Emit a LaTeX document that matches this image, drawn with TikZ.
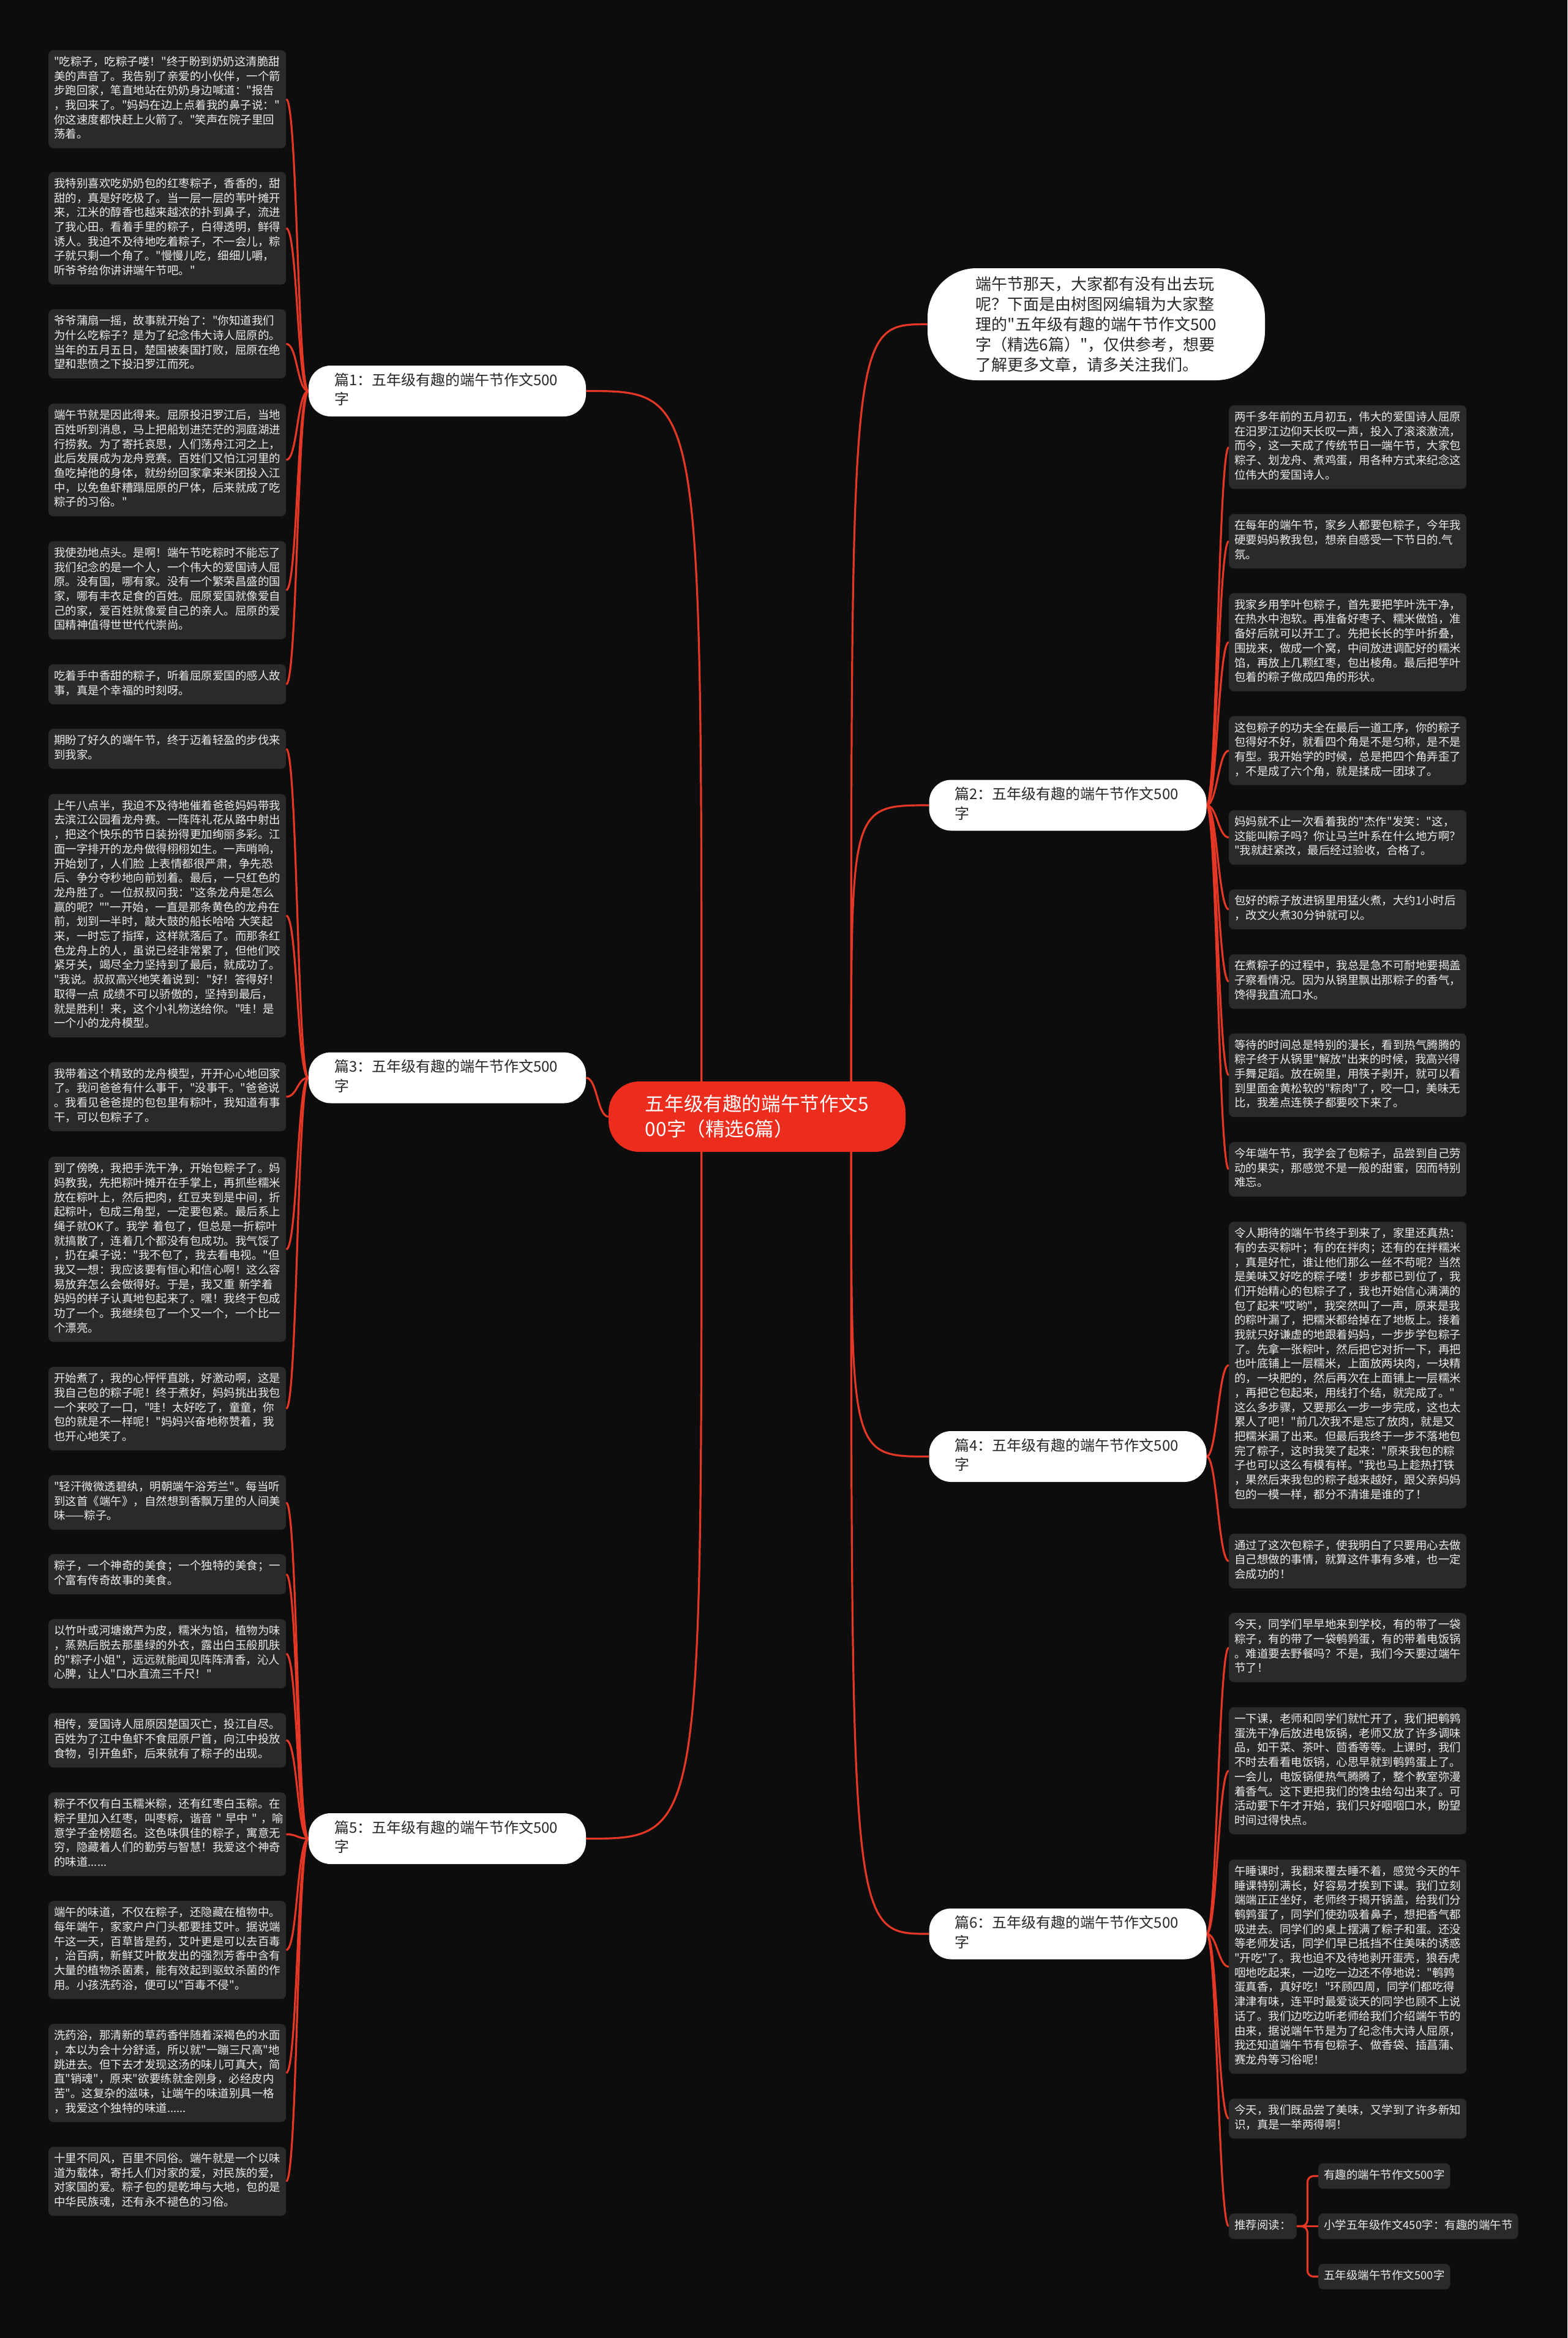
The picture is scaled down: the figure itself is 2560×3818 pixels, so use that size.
\documentclass[tikz,border=0pt]{standalone}
\usepackage{fontspec}
\newfontfamily\cjkf{Noto Sans CJK SC}
\setmainfont{Noto Sans CJK SC}
\usetikzlibrary{calc}
\definecolor{bgc}{RGB}{13,13,13}
\definecolor{leafc}{RGB}{42,42,42}
\definecolor{leaftx}{RGB}{236,236,236}
\definecolor{redc}{RGB}{229,55,38}
\definecolor{rootc}{RGB}{236,44,28}
\definecolor{branchtx}{RGB}{40,40,40}
\pgfdeclarelayer{back}
\pgfsetlayers{back,main}
\begin{document}
\begin{tikzpicture}[x=1pt,y=-1pt,
  leaf/.style={fill=leafc, rounded corners=8pt, text=leaftx, text width=370pt,
    inner xsep=9pt, inner ysep=9pt, align=left, anchor=west,
    font=\cjkf\fontsize{18.5pt}{23.7pt}\selectfont,
    execute at begin node=\strut, execute at end node=\strut},
  chip/.style={fill=leafc, rounded corners=8pt, text=leaftx,
    inner xsep=9pt, inner ysep=9pt, anchor=west,
    font=\cjkf\fontsize{18.5pt}{23.7pt}\selectfont, execute at begin node=\strut},
  branch/.style={fill=white, rounded corners=36pt, text=branchtx, text width=369pt,
    inner xsep=42pt, inner ysep=10pt, align=left,
    font=\cjkf\fontsize{24pt}{31.5pt}\selectfont,
    execute at begin node=\strut, execute at end node=\strut},
  conn/.style={draw=redc, line width=3.2pt},
]
\begin{pgfonlayer}{back}
\fill[bgc] (0,0) rectangle (2560,3818);
\end{pgfonlayer}
\useasboundingbox (0,0) rectangle (2560,3818);

% root and intro
\node[fill=rootc, rounded corners=50pt, text=white, minimum width=485pt, minimum height=115pt,
  align=left, font=\cjkf\fontsize{31.6pt}{41pt}\selectfont] (root) at (1236.5,1823.5)
  {五年级有趣的端午节作文5\\00字（精选6篇）};
\node[fill=white, rounded corners=80pt, text=branchtx, minimum width=551pt, minimum height=183pt,
  align=left, font=\cjkf\fontsize{26pt}{33pt}\selectfont] (intro) at (1790.5,529.5)
  {端午节那天，大家都有没有出去玩\\呢？下面是由树图网编辑为大家整\\理的"五年级有趣的端午节作文500\\字（精选6篇）"，仅供参考，想要\\了解更多文章，请多关注我们。};

% branches
\node[branch] (p1) at (730.5,638.5) {篇1：五年级有趣的端午节作文500\\字};
\node[branch] (p3) at (730.5,1760) {篇3：五年级有趣的端午节作文500\\字};
\node[branch] (p5) at (730.5,3002.5) {篇5：五年级有趣的端午节作文500\\字};
\node[branch] (p2) at (1744,1315) {篇2：五年级有趣的端午节作文500\\字};
\node[branch] (p4) at (1744,2378.5) {篇4：五年级有趣的端午节作文500\\字};
\node[branch] (p6) at (1744,3158) {篇6：五年级有趣的端午节作文500\\字};

% left leaves
\node[leaf] (l1) at (79,162) {"吃粽子，吃粽子喽！"终于盼到奶奶这清脆甜\\美的声音了。我告别了亲爱的小伙伴，一个箭\\步跑回家，笔直地站在奶奶身边喊道："报告\\，我回来了。"妈妈在边上点着我的鼻子说："\\你这速度都快赶上火箭了。"笑声在院子里回\\荡着。};
\node[leaf] (l2) at (79,372.7) {我特别喜欢吃奶奶包的红枣粽子，香香的，甜\\甜的，真是好吃极了。当一层一层的苇叶摊开\\来，江米的醇香也越来越浓的扑到鼻子，流进\\了我心田。看着手里的粽子，白得透明，鲜得\\诱人。我迫不及待地吃着粽子，不一会儿，粽\\子就只剩一个角了。"慢慢儿吃，细细儿嚼，\\听爷爷给你讲讲端午节吧。"};
\node[leaf] (l3) at (79,561.5) {爷爷蒲扇一摇，故事就开始了："你知道我们\\为什么吃粽子？是为了纪念伟大诗人屈原的。\\当年的五月五日，楚国被秦国打败，屈原在绝\\望和悲愤之下投汨罗江而死。};
\node[leaf] (l4) at (79,751.1) {端午节就是因此得来。屈原投汨罗江后，当地\\百姓听到消息，马上把船划进茫茫的洞庭湖进\\行捞救。为了寄托哀思，人们荡舟江河之上，\\此后发展成为龙舟竞赛。百姓们又怕江河里的\\鱼吃掉他的身体，就纷纷回家拿来米团投入江\\中，以免鱼虾糟蹋屈原的尸体，后来就成了吃\\粽子的习俗。"};
\node[leaf] (l5) at (79,963.8) {我使劲地点头。是啊！端午节吃粽时不能忘了\\我们纪念的是一个人，一个伟大的爱国诗人屈\\原。没有国，哪有家。没有一个繁荣昌盛的国\\家，哪有丰衣足食的百姓。屈原爱国就像爱自\\己的家，爱百姓就像爱自己的亲人。屈原的爱\\国精神值得世世代代崇尚。};
\node[leaf] (l6) at (79,1117.5) {吃着手中香甜的粽子，听着屈原爱国的感人故\\事，真是个幸福的时刻呀。};
\node[leaf] (l7) at (79,1222.9) {期盼了好久的端午节，终于迈着轻盈的步伐来\\到我家。};
\node[leaf] (l8) at (79,1495.2) {上午八点半，我迫不及待地催着爸爸妈妈带我\\去滨江公园看龙舟赛。一阵阵礼花从路中射出\\，把这个快乐的节日装扮得更加绚丽多彩。江\\面一字排开的龙舟做得栩栩如生。一声哨响，\\开始划了，人们脸~上表情都很严肃，争先恐\\后、争分夺秒地向前划着。最后，一只红色的\\龙舟胜了。一位叔叔问我："这条龙舟是怎么\\赢的呢？""一开始，一直是那条黄色的龙舟在\\前，划到一半时，敲大鼓的船长哈哈~大笑起\\来，一时忘了指挥，这样就落后了。而那条红\\色龙舟上的人，虽说已经非常累了，但他们咬\\紧牙关，竭尽全力坚持到了最后，就成功了。\\"我说。叔叔高兴地笑着说到："好！答得好！\\取得一点~成绩不可以骄傲的，坚持到最后，\\就是胜利！来，这个小礼物送给你。"哇！是\\一个小的龙舟模型。};
\node[leaf] (l9) at (79,1791) {我带着这个精致的龙舟模型，开开心心地回家\\了。我问爸爸有什么事干，"没事干。"爸爸说\\。我看见爸爸提的包包里有粽叶，我知道有事\\干，可以包粽子了。};
\node[leaf] (l10) at (79,2040.2) {到了傍晚，我把手洗干净，开始包粽子了。妈\\妈教我，先把粽叶摊开在手掌上，再抓些糯米\\放在粽叶上，然后把肉，红豆夹到是中间，折\\起粽叶，包成三角型，一定要包紧。最后系上\\绳子就OK了。我学~着包了，但总是一折粽叶\\就搞散了，连着几个都没有包成功。我气馁了\\，扔在桌子说："我不包了，我去看电视。"但\\我又一想：我应该要有恒心和信心啊！这么容\\易放弃怎么会做得好。于是，我又重~新学着\\妈妈的样子认真地包起来了。嘿！我终于包成\\功了一个。我继续包了一个又一个，一个比一\\个漂亮。};
\node[leaf] (l11) at (79,2300.4) {开始煮了，我的心怦怦直跳，好激动啊，这是\\我自己包的粽子呢！终于煮好，妈妈挑出我包\\一个来咬了一口，"哇！太好吃了，童童，你\\包的就是不一样呢！"妈妈兴奋地称赞着，我\\也开心地笑了。};
\node[leaf] (l12) at (79,2453.5) {"轻汗微微透碧纨，明朝端午浴芳兰"。每当听\\到这首《端午》，自然想到香飘万里的人间美\\味——粽子。};
\node[leaf] (l13) at (79,2570.8) {粽子，一个神奇的美食；一个独特的美食；一\\个富有传奇故事的美食。};
\node[leaf] (l14) at (79,2700.6) {以竹叶或河塘嫩芦为皮，糯米为馅，植物为味\\，蒸熟后脱去那墨绿的外衣，露出白玉般肌肤\\的"粽子小姐"，远远就能闻见阵阵清香，沁人\\心脾，让人"口水直流三千尺！"};
\node[leaf] (l15) at (79,2841.8) {相传，爱国诗人屈原因楚国灭亡，投江自尽。\\百姓为了江中鱼虾不食屈原尸首，向江中投放\\食物，引开鱼虾，后来就有了粽子的出现。};
\node[leaf] (l16) at (79,2995.4) {粽子不仅有白玉糯米粽，还有红枣白玉粽。在\\粽子里加入红枣，叫枣粽，谐音~"~早中~"~，喻\\意学子金榜题名。这色味俱佳的粽子，寓意无\\穷，隐藏着人们的勤劳与智慧！我爱这个神奇\\的味道......};
\node[leaf] (l17) at (79,3184.3) {端午的味道，不仅在粽子，还隐藏在植物中。\\每年端午，家家户户门头都要挂艾叶。据说端\\午这一天，百草皆是药，艾叶更是可以去百毒\\，治百病，新鲜艾叶散发出的强烈芳香中含有\\大量的植物杀菌素，能有效起到驱蚊杀菌的作\\用。小孩洗药浴，便可以"百毒不侵"。};
\node[leaf] (l18) at (79,3385.3) {洗药浴，那清新的草药香伴随着深褐色的水面\\，本以为会十分舒适，所以就"一蹦三尺高"地\\跳进去。但下去才发现这汤的味儿可真大，简\\直"销魂"，原来"欲要练就金刚身，必经皮内\\苦"。这复杂的滋味，让端午的味道别具一格\\，我爱这个独特的味道......};
\node[leaf] (l19) at (79,3562.3) {十里不同风，百里不同俗。端午就是一个以味\\道为载体，寄托人们对家的爱，对民族的爱，\\对家国的爱。粽子包的是乾坤与大地，包的是\\中华民族魂，还有永不褪色的习俗。};

% right leaves
\node[leaf] (r1) at (2007,730.2) {两千多年前的五月初五，伟大的爱国诗人屈原\\在汨罗江边仰天长叹一声，投入了滚滚激流，\\而今，这一天成了传统节日一端午节，大家包\\粽子、划龙舟、煮鸡蛋，用各种方式来纪念这\\位伟大的爱国诗人。};
\node[leaf] (r2) at (2007,883.8) {在每年的端午节，家乡人都要包粽子，今年我\\硬要妈妈教我包，想亲自感受一下节日的.气\\氛。};
\node[leaf] (r3) at (2007,1048.7) {我家乡用竽叶包粽子，首先要把竽叶洗干净，\\在热水中泡软。再准备好枣子、糯米做馅，准\\备好后就可以开工了。先把长长的竽叶折叠，\\围拢来，做成一个窝，中间放进调配好的糯米\\馅，再放上几颗红枣，包出棱角。最后把竽叶\\包着的粽子做成四角的形状。};
\node[leaf] (r4) at (2007,1225.8) {这包粽子的功夫全在最后一道工序，你的粽子\\包得好不好，就看四个角是不是匀称，是不是\\有型。我开始学的时候，总是把四个角弄歪了\\，不是成了六个角，就是揉成一团球了。};
\node[leaf] (r5) at (2007,1367.5) {妈妈就不止一次看着我的"杰作"发笑："这，\\这能叫粽子吗？你让马兰叶系在什么地方啊？\\"我就赶紧改，最后经过验收，合格了。};
\node[leaf] (r6) at (2007,1485) {包好的粽子放进锅里用猛火煮，大约1小时后\\，改文火煮30分钟就可以。};
\node[leaf] (r7) at (2007,1602.8) {在煮粽子的过程中，我总是急不可耐地要揭盖\\子察看情况。因为从锅里飘出那粽子的香气，\\馋得我直流口水。};
\node[leaf] (r8) at (2007,1755.8) {等待的时间总是特别的漫长，看到热气腾腾的\\粽子终于从锅里"解放"出来的时候，我高兴得\\手舞足蹈。放在碗里，用筷子剥开，就可以看\\到里面金黄松软的"粽肉"了，咬一口，美味无\\比，我差点连筷子都要咬下来了。};
\node[leaf] (r9) at (2007,1909.5) {今年端午节，我学会了包粽子，品尝到自己劳\\动的果实，那感觉不是一般的甜蜜，因而特别\\难忘。};
\node[leaf] (r10) at (2007,2229.2) {令人期待的端午节终于到来了，家里还真热：\\有的去买粽叶；有的在拌肉；还有的在拌糯米\\，真是好忙，谁让他们那么一丝不苟呢？当然\\是美味又好吃的粽子喽！步步都已到位了，我\\们开始精心的包粽子了，我也开始信心满满的\\包了起来"哎哟"，我突然叫了一声，原来是我\\的粽叶漏了，把糯米都给掉在了地板上。接着\\我就只好谦虚的地跟着妈妈，一步步学包粽子\\了。先拿一张粽叶，然后把它对折一下，再把\\也叶底铺上一层糯米，上面放两块肉，一块精\\的，一块肥的，然后再次在上面铺上一层糯米\\，再把它包起来，用线打个结，就完成了。"\\这么多步骤，又要那么一步一步完成，这也太\\累人了吧！"前几次我不是忘了放肉，就是又\\把糯米漏了出来。但最后我终于一步不落地包\\完了粽子，这时我笑了起来："原来我包的粽\\子也可以这么有模有样。"我也马上趁热打铁\\，果然后来我包的粽子越来越好，跟父亲妈妈\\包的一模一样，都分不清谁是谁的了！};
\node[leaf] (r11) at (2007,2549.2) {通过了这次包粽子，使我明白了只要用心去做\\自己想做的事情，就算这件事有多难，也一定\\会成功的！};
\node[leaf] (r12) at (2007,2690.5) {今天，同学们早早地来到学校，有的带了一袋\\粽子，有的带了一袋鹌鹑蛋，有的带着电饭锅\\。难道要去野餐吗？不是，我们今天要过端午\\节了！};
\node[leaf] (r13) at (2007,2891.7) {一下课，老师和同学们就忙开了，我们把鹌鹑\\蛋洗干净后放进电饭锅，老师又放了许多调味\\品，如干菜、茶叶、茴香等等。上课时，我们\\不时去看看电饭锅，心思早就到鹌鹑蛋上了。\\一会儿，电饭锅便热气腾腾了，整个教室弥漫\\着香气。这下更把我们的馋虫给勾出来了。可\\活动要下午才开始，我们只好咽咽口水，盼望\\时间过得快点。};
\node[leaf] (r14) at (2007,3211.6) {午睡课时，我翻来覆去睡不着，感觉今天的午\\睡课特别满长，好容易才挨到下课。我们立刻\\端端正正坐好，老师终于揭开锅盖，给我们分\\鹌鹑蛋了，同学们使劲吸着鼻子，想把香气都\\吸进去。同学们的桌上摆满了粽子和蛋。还没\\等老师发话，同学们早已抵挡不住美味的诱惑\\"开吃"了。我也迫不及待地剥开蛋壳，狼吞虎\\咽地吃起来，一边吃一边还不停地说："鹌鹑\\蛋真香，真好吃！"环顾四周，同学们都吃得\\津津有味，连平时最爱谈天的同学也顾不上说\\话了。我们边吃边听老师给我们介绍端午节的\\由来，据说端午节是为了纪念伟大诗人屈原，\\我还知道端午节有包粽子、做香袋、插菖蒲、\\赛龙舟等习俗呢！};
\node[leaf] (r15) at (2007,3459.7) {今天，我们既品尝了美味，又学到了许多新知\\识，真是一举两得啊！};

% recommended reading
\node[chip] (rec) at (2007,3635.5) {推荐阅读：};
\node[chip] (rc1) at (2153,3553.5) {有趣的端午节作文500字};
\node[chip] (rc2) at (2153,3635.5) {小学五年级作文450字：有趣的端午节};
\node[chip] (rc3) at (2153,3717.7) {五年级端午节作文500字};

% connectors
\begin{pgfonlayer}{back}
\coordinate (rtl) at ($(root.north west)+(152,0)$);
\coordinate (rbl) at ($(root.south west)+(152,0)$);
\coordinate (rtr) at ($(root.north east)+(-89,0)$);
\coordinate (rbr) at ($(root.south east)+(-89,0)$);
\draw[conn] (rtl) .. controls (rtl |- p1.east) and (rtl |- p1.east) .. (p1.east);
\draw[conn] (root.west) .. controls ($(root.west)+(-18,0)$) and ($(p3.east)+(18,0)$) .. (p3.east);
\draw[conn] (rbl) .. controls (rbl |- p5.east) and (rbl |- p5.east) .. (p5.east);
\draw[conn] (rtr) .. controls (rtr |- intro.west) and (rtr |- intro.west) .. (intro.west);
\draw[conn] (rtr) .. controls (rtr |- p2.west) and (rtr |- p2.west) .. (p2.west);
\draw[conn] (rbr) .. controls (rbr |- p4.west) and (rbr |- p4.west) .. (p4.west);
\draw[conn] (rbr) .. controls (rbr |- p6.west) and (rbr |- p6.west) .. (p6.west);
\foreach \b/\c in {p1/l1,p1/l2,p1/l3,p1/l4,p1/l5,p1/l6,
                   p3/l7,p3/l8,p3/l9,p3/l10,p3/l11,
                   p5/l12,p5/l13,p5/l14,p5/l15,p5/l16,p5/l17,p5/l18,p5/l19}
  \draw[conn] (\b.west) .. controls ($(\b.west)+(-18.5,0)$) and ($(\c.east)+(18.5,0)$) .. (\c.east);
\foreach \b/\c in {p2/r1,p2/r2,p2/r3,p2/r4,p2/r5,p2/r6,p2/r7,p2/r8,p2/r9,
                   p4/r10,p4/r11,
                   p6/r12,p6/r13,p6/r14,p6/r15,p6/rec}
  \draw[conn] (\b.east) .. controls ($(\b.east)+(17,0)$) and ($(\c.west)+(-17,0)$) .. (\c.west);
\draw[conn, rounded corners=10pt] (rec.east) -- ++(17.5,0) |- (rc1.west);
\draw[conn, rounded corners=10pt] (rec.east) -- ++(17.5,0) |- (rc3.west);
\draw[conn] (rec.east) -- (rc2.west);
\end{pgfonlayer}
\end{tikzpicture}
\end{document}
